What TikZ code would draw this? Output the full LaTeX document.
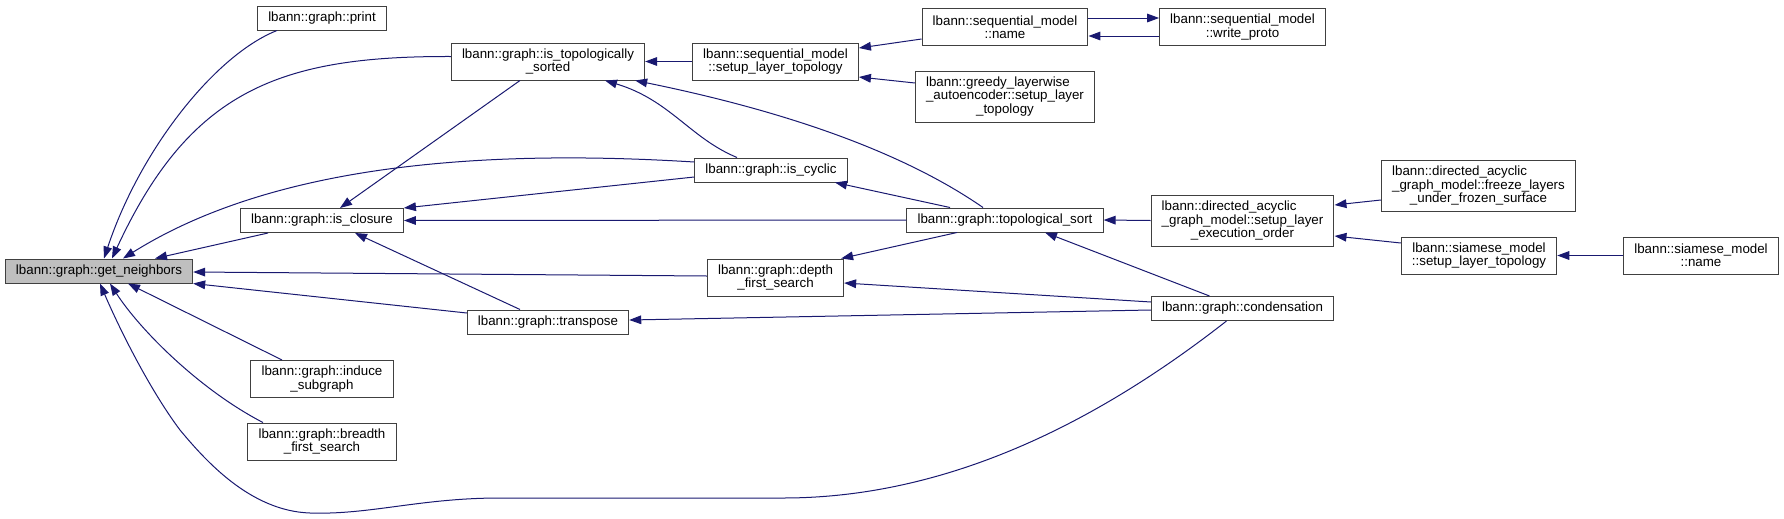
\documentclass[tikz,border=0pt]{standalone}
\usepackage{fontspec}
\setmainfont{Liberation Sans}
\usepackage{tikz}
\usetikzlibrary{arrows.meta,calc}
\definecolor{edgeblue}{HTML}{191970}
\definecolor{nodeline}{HTML}{404040}
\definecolor{selfill}{HTML}{BFBFBF}
\newlength{\firstlinewd}
\newcommand{\leftfirst}[3]{\settowidth{\firstlinewd}{#2}\makebox[\firstlinewd][l]{#1}\\#2\\#3}

\begin{document}
\begin{tikzpicture}[
  x=0.75pt,y=-0.75pt,
  fn/.style={draw=nodeline,line width=0.75pt,fill=white,minimum height=18pt,inner xsep=8pt,inner ysep=2pt,align=center,font=\fontsize{10}{10}\selectfont},
  two/.style={minimum height=27.75pt},
  three/.style={minimum height=38.25pt},
  arr/.style={-{Triangle[length=9pt,width=6.5pt]},draw=edgeblue,line width=0.75pt}
]
\useasboundingbox (0,0) rectangle (1784,518);

\node[fn,fill=selfill] (getneighbors) at (99,271) {lbann::graph::get\_neighbors};
\node[fn] (print) at (322,18) {lbann::graph::print};
\node[fn,two] (istopo) at (548,61.5) {lbann::graph::is\_topologically\\\_sorted};
\node[fn] (isclosure) at (322,220.5) {lbann::graph::is\_closure};
\node[fn,two] (induce) at (322,379) {lbann::graph::induce\\\_subgraph};
\node[fn,two] (breadth) at (322,441.5) {lbann::graph::breadth\\\_first\_search};
\node[fn] (transpose) at (548,322) {lbann::graph::transpose};
\node[fn,two] (seqsetup) at (775.5,61.5) {lbann::sequential\_model\\::setup\_layer\_topology};
\node[fn] (iscyclic) at (771,170) {lbann::graph::is\_cyclic};
\node[fn,two] (depthfs) at (775.5,277.5) {lbann::graph::depth\\\_first\_search};
\node[fn,two] (seqname) at (1005,27) {lbann::sequential\_model\\::name};
\node[fn,three] (greedy) at (1005,96.5) {\leftfirst{lbann::greedy\_layerwise}{\_autoencoder::setup\_layer}{\_topology}};
\node[fn] (toposort) at (1005,220) {lbann::graph::topological\_sort};
\node[fn,two] (writeproto) at (1242.5,27) {lbann::sequential\_model\\::write\_proto};
\node[fn,three] (dagorder) at (1242.5,220.5) {\leftfirst{lbann::directed\_acyclic}{\_graph\_model::setup\_layer}{\_execution\_order}};
\node[fn] (condens) at (1242.5,308.5) {lbann::graph::condensation};
\node[fn,three] (freeze) at (1478.5,185.5) {\leftfirst{lbann::directed\_acyclic}{\_graph\_model::freeze\_layers}{\_under\_frozen\_surface}};
\node[fn,two] (siamsetup) at (1479,255.5) {lbann::siamese\_model\\::setup\_layer\_topology};
\node[fn,two] (siamname) at (1701,255.5) {lbann::siamese\_model\\::name};

\draw[arr] ($(print.south)+(-45,0)$) .. controls (215,55) and (140,150) .. ($(getneighbors.north)+(5,0)$);
\draw[arr] ($(istopo.west)+(0,-5)$) .. controls (280,56) and (190,90) .. ($(getneighbors.north)+(13,0)$);
\draw[arr] ($(iscyclic.west)+(0,-8)$) .. controls (500,150) and (280,160) .. ($(getneighbors.north)+(24,0)$);
\draw[arr] ($(isclosure.south)+(-54,0)$) -- ($(getneighbors.north)+(56,0)$);
\draw[arr] ($(depthfs.west)+(0,-1.5)$) -- ($(getneighbors.east)+(0,1)$);
\draw[arr] ($(transpose.west)+(0,-9)$) -- (getneighbors.south east);
\draw[arr] ($(induce.north)+(-40,0)$) -- ($(getneighbors.south)+(29,0)$);
\draw[arr] ($(breadth.north)+(-59,0)$) .. controls (200,390) and (140,330) .. ($(getneighbors.south)+(11,0)$);
\draw[arr] ($(condens.south)+(-16,0)$) .. controls (1100,420) and (950,498) .. (783,498) -- (500,498) .. controls (420,498) and (370,515) .. (310,513) .. controls (250,511) and (205,460) .. (180,430) .. controls (150,390) and (120,330) .. ($(getneighbors.south)+(1,0)$);

\draw[arr] ($(iscyclic.west)+(0,7)$) -- (isclosure.north east);
\draw[arr] (toposort.west) -- (isclosure.east);
\draw[arr] ($(istopo.south)+(-28,0)$) -- ($(isclosure.north)+(18,0)$);
\draw[arr] ($(transpose.north)+(-28,0)$) -- ($(isclosure.south)+(33,0)$);

\draw[arr] (seqsetup.west) -- (istopo.east);
\draw[arr] ($(toposort.north)+(-22,0)$) .. controls (900,150) and (780,110) .. ($(istopo.south east)+(-10,0)$);
\draw[arr] ($(iscyclic.north)+(-34,0)$) .. controls (690,138) and (670,100) .. ($(istopo.south)+(57,0)$);

\draw[arr] ($(seqname.west)+(0,12)$) -- ($(seqsetup.east)+(0,-13.5)$);
\draw[arr] ($(greedy.west)+(0,-13.5)$) -- ($(seqsetup.east)+(0,15.5)$);
\draw[arr] ($(seqname.east)+(0,-9)$) -- ($(writeproto.west)+(0,-9)$);
\draw[arr] ($(writeproto.west)+(0,9)$) -- ($(seqname.east)+(0,9)$);

\draw[arr] ($(toposort.north)+(-55,0)$) -- ($(iscyclic.south)+(64,0)$);
\draw[arr] (dagorder.west) -- (toposort.east);
\draw[arr] ($(condens.north)+(-33,0)$) -- ($(toposort.south)+(40,0)$);
\draw[arr] ($(condens.west)+(0,-6.5)$) -- ($(depthfs.east)+(0,5.5)$);
\draw[arr] ($(condens.west)+(0,1.5)$) -- ($(transpose.east)+(0,-2)$);
\draw[arr] ($(toposort.south)+(-48,0)$) -- ($(depthfs.north east)+(-3,0)$);

\draw[arr] ($(freeze.west)+(0,14.5)$) -- ($(dagorder.east)+(0,-15.5)$);
\draw[arr] ($(siamsetup.west)+(0,-12.5)$) -- ($(dagorder.east)+(0,15.5)$);
\draw[arr] (siamname.west) -- (siamsetup.east);
\end{tikzpicture}
\end{document}
